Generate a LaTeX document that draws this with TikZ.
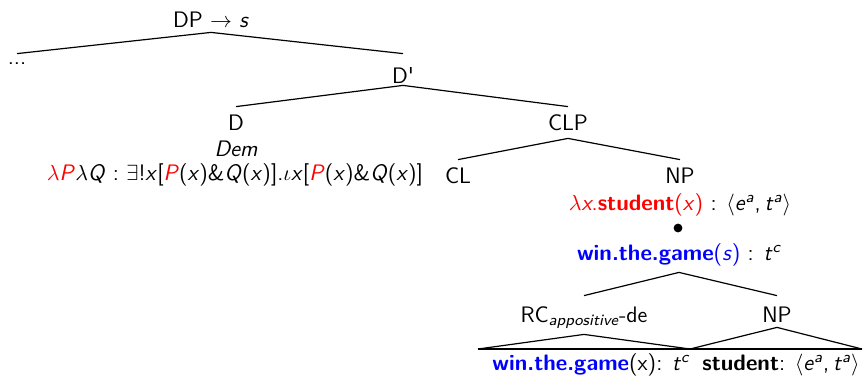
\documentclass[tikz,border=0pt]{standalone}
\usepackage{xcolor}
\renewcommand{\familydefault}{\sfdefault}
\newcommand{\iv}[1]{\textit{#1}}
\begin{document}
\begin{tikzpicture}[x=0.5pt,y=-0.5pt,
  tn/.style={anchor=base,inner xsep=1pt,inner ysep=0pt,font=\fontsize{11.2}{13.4}\selectfont\sffamily},
  edge/.style={line width=0.6pt}]
\useasboundingbox (0,0) rectangle (863,377);
% nodes (positioned by baseline)
\node[tn,text height=7pt,text depth=2.5pt] (dp) at (211,27) {DP $\to$ \iv{s}};
\node[tn,text height=5pt,text depth=0pt] (dots) at (17,64) {...};
\node[tn,text height=14.5pt,text depth=1pt] (dprime) at (403,83) {D\textquotesingle};
\node[tn,text height=11.5pt,text depth=0pt] (d) at (236,130) {D};
\node[tn] (dem) at (236,156) {\iv{Dem}};
\node[tn] (form) at (235,180) {{\color{red}$\lambda$\iv{P}}$\lambda$\iv{Q} : $\exists$!\iv{x}[{\color{red}\iv{P}}(\iv{x})\&\iv{Q}(\iv{x})].$\iota$\iv{x}[{\color{red}\iv{P}}(\iv{x})\&\iv{Q}(\iv{x})]};
\node[tn,text height=11.5pt,text depth=4pt] (clp) at (568,130) {CLP};
\node[tn,text height=11.5pt,text depth=0pt] (cl) at (458,183) {CL};
\node[tn,text height=11.5pt,text depth=0pt] (np) at (680,183) {NP};
\node[tn] (stud) at (680,210) {{\color{red}$\lambda$\iv{x}.\textbf{student}(\iv{x})} : $\langle$\iv{e}\textsuperscript{\itshape a},\kern2pt\iv{t}\textsuperscript{\itshape a}$\rangle$};
\node[circle,fill=black,inner sep=0pt,minimum size=4.4pt] (dot) at (678,228) {};
\node[tn,text height=7pt,text depth=6pt] (wtg) at (679,260) {{\color{blue}\textbf{win.the.game}(\iv{s})} : \iv{t}\textsuperscript{\itshape c}};
\node[tn,text height=13pt,text depth=6pt] (rc) at (584,322) {RC\textsubscript{\itshape appositive}-de};
\node[tn,text height=13pt,text depth=2.5pt] (np2) at (777,322) {NP};
\node[tn] (bl) at (591,370) {{\color{blue}\textbf{win.the.game}}(x): \iv{t}\textsuperscript{\itshape c}};
\node[tn] (br) at (781,370) {\textbf{student}: $\langle$\iv{e}\textsuperscript{\itshape a},\kern2pt\iv{t}\textsuperscript{\itshape a}$\rangle$};
\coordinate (tl) at (478,349);
\coordinate (tm) at (690,349);
\coordinate (tr) at (862,349);
% connectors
\draw[edge] (dots.north) -- (dp.south) -- (dprime.north);
\draw[edge] (d.north) -- (dprime.south) -- (clp.north);
\draw[edge] (cl.north) -- (clp.south) -- (np.north);
\draw[edge] (rc.north) -- (wtg.south) -- (np2.north);
\draw[edge] (tl) -- (rc.south) -- (tm) -- (np2.south) -- (tr);
\draw[edge] (tl) -- (tr);
\end{tikzpicture}
\end{document}
